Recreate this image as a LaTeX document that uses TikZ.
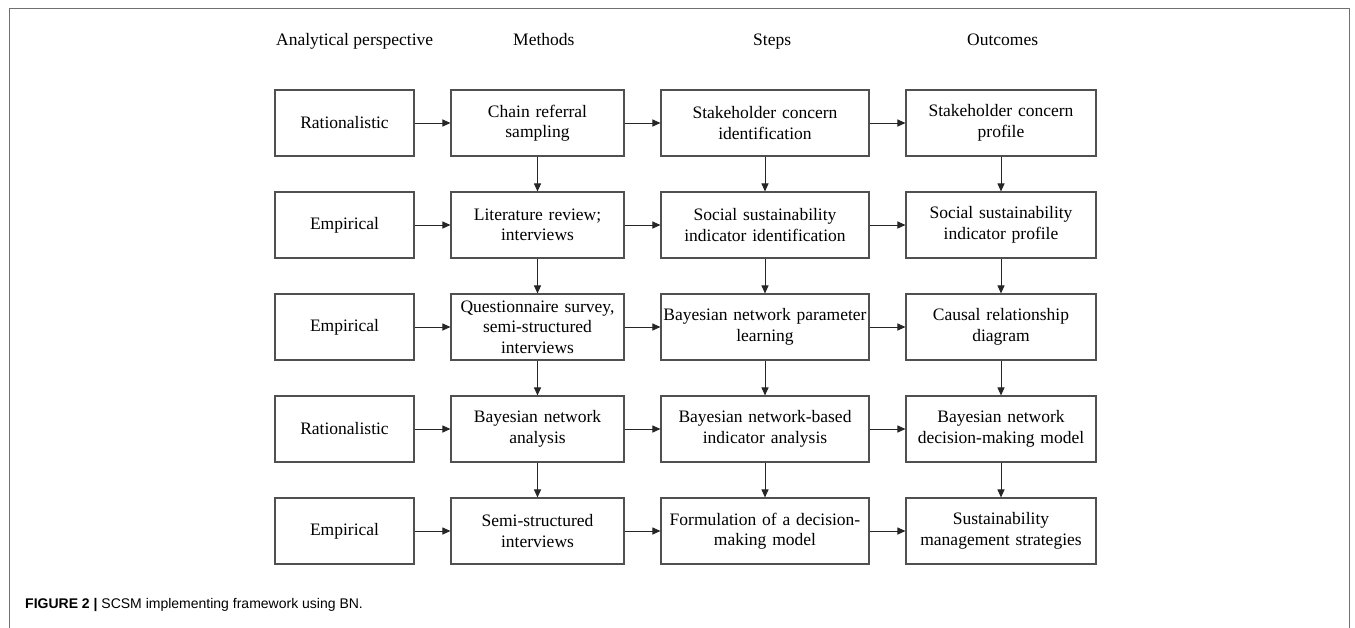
\documentclass[tikz,border=0pt]{standalone}
\usepackage{fontspec}
\setmainfont{Liberation Serif}
\newfontfamily\capfont{Liberation Sans}
\usetikzlibrary{arrows.meta}
\definecolor{boxline}{HTML}{505050}
\definecolor{frameline}{HTML}{707070}
\tikzset{
  stagebox/.style={draw=boxline, line width=1.1pt, minimum height=66pt, align=center, inner sep=1pt, font=\fontsize{17.5pt}{20.5pt}\selectfont, text=black},
  c1/.style={stagebox, minimum width=139pt, text width=137pt},
  c2/.style={stagebox, minimum width=173pt, text width=171pt},
  c3/.style={stagebox, minimum width=208pt, text width=206pt},
  c4/.style={stagebox, minimum width=190pt, text width=188pt},
  hdr/.style={anchor=base west, font=\fontsize{17.5pt}{20pt}\selectfont, inner sep=0pt},
  flow/.style={draw=black!85, line width=1pt, -{Triangle[length=8pt,width=7pt]}},
}
\begin{document}
\begin{tikzpicture}[x=1pt,y=-1pt]
\useasboundingbox (0,0) rectangle (1355,627);
\draw[frameline, line width=1.2pt] (9.5,640) -- (9.5,8.5) -- (1349.5,8.5) -- (1349.5,640);
% headers
\node[hdr] (h1) at (276,45) {Analytical perspective};
\node[hdr] (h2) at (513,45) {Methods};
\node[hdr] (h3) at (753,45) {Steps};
\node[hdr] (h4) at (967,45) {Outcomes};
% row 1
\node[c1] (a1) at (344.5,123) {Rationalistic};
\node[c2] (b1) at (537.5,123) {Chain referral\\sampling};
\node[c3] (s1) at (765,123) {Stakeholder concern\\identification};
\node[c4] (o1) at (1001,123) {Stakeholder concern\\profile};
% row 2
\node[c1] (a2) at (344.5,225) {Empirical};
\node[c2] (b2) at (537.5,225) {Literature review;\\interviews};
\node[c3] (s2) at (765,225) {Social sustainability\\indicator identification};
\node[c4] (o2) at (1001,225) {Social sustainability\\indicator profile};
% row 3
\node[c1] (a3) at (344.5,327) {Empirical};
\node[c2] (b3) at (537.5,327) {Questionnaire survey,\\semi-structured\\interviews};
\node[c3] (s3) at (765,327) {Bayesian network parameter\\learning};
\node[c4] (o3) at (1001,327) {Causal relationship\\diagram};
% row 4
\node[c1] (a4) at (344.5,429) {Rationalistic};
\node[c2] (b4) at (537.5,429) {Bayesian network\\analysis};
\node[c3] (s4) at (765,429) {Bayesian network-based\\indicator analysis};
\node[c4] (o4) at (1001,429) {Bayesian network\\decision-making model};
% row 5
\node[c1] (a5) at (344.5,531) {Empirical};
\node[c2] (b5) at (537.5,531) {Semi-structured\\interviews};
\node[c3] (s5) at (765,531) {Formulation of a decision-\\making model};
\node[c4] (o5) at (1001,531) {Sustainability\\management strategies};
% horizontal arrows
\foreach \i in {1,...,5}{
  \draw[flow] (a\i) -- (b\i);
  \draw[flow] (b\i) -- (s\i);
  \draw[flow] (s\i) -- (o\i);
}
% vertical arrows
\foreach \i/\j in {1/2,2/3,3/4,4/5}{
  \draw[flow] (b\i) -- (b\j);
  \draw[flow] (s\i) -- (s\j);
  \draw[flow] (o\i) -- (o\j);
}
% caption
\node[anchor=base west, inner sep=0pt, font=\capfont\fontsize{14pt}{16pt}\selectfont] (cap) at (25,608) {\textbf{FIGURE 2 |} SCSM implementing framework using BN.};
\end{tikzpicture}
\end{document}
